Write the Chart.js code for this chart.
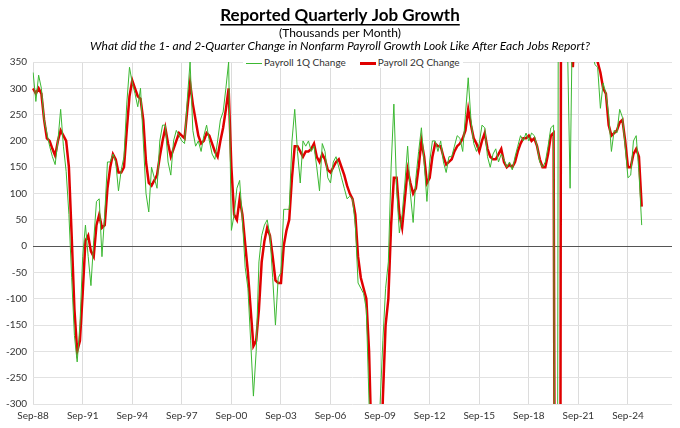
<!DOCTYPE html>
<html><head><meta charset="utf-8">
<script src="https://cdn.jsdelivr.net/npm/chart.js@4"></script>
<style>
body{margin:0;background:#fff;font-family:Lato,sans-serif}
#wrap{position:relative;width:680px;height:428px}
#legend{position:absolute;left:243px;top:56px;font-size:10px;color:#333;display:flex;gap:14px;background:#fff;padding:0 3px}
#legend span.l{display:inline-block;width:16px;vertical-align:middle;margin-right:2px}
</style></head>
<body><div id="wrap"><canvas id="c" width="680" height="428"></canvas>
<div id="legend"><div><span class="l" style="border-top:1px solid #3cb832"></span>Payroll 1Q Change</div><div><span class="l" style="border-top:3px solid #e00000"></span>Payroll 2Q Change</div></div></div>
<script>
// bimonthly readings, Sep-88 onward; axis runs on past the last report
const months = ['Jan','Feb','Mar','Apr','May','Jun','Jul','Aug','Sep','Oct','Nov','Dec'];
const labels = [];
for (let i = 0; i < 233; i++) {
  const m = 8 + 2 * i;
  const yr = (88 + Math.floor(m / 12)) % 100;
  labels.push(months[m % 12] + '-' + String(yr).padStart(2, '0'));
}
const yTicks = [-300,-250,-200,-150,-100,-50,0,50,100,150,200,250,300,350];

const payroll1Q = [
  330,275,325,300,240,215, 190,170,155,200,260,190, 142,60,-60,-170,-220,-150,
  -20,40,-20,-75,10,85, 90,-20,60,160,160,175, 160,105,145,170,270,340,
  310,290,265,300,200,100, 65,150,130,110,200,230, 230,160,135,200,220,210,
  200,195,280,350,220,190, 200,180,210,230,200,175, 165,200,240,255,300,350,
  30,60,110,125,50,-40, -80,-180,-285,-200,-30,20, 40,50,20,-60,-150,-60,
  -50,70,70,70,200,260, 180,120,200,190,200,180, 190,150,105,195,180,130,
  120,160,170,150,130,110, 90,95,90,40,-70,-80, -90,-120,-300,-600,-700,-500,
  -300,-180,-80,-30,150,270, 110,25,60,120,190,100, 45,130,180,225,160,85,
  160,200,200,180,200,160, 140,170,170,190,210,205, 180,250,320,240,195,180,
  195,230,225,170,150,175, 185,160,175,165,150,160, 145,170,190,210,200,215,
  200,215,210,190,160,150, 160,190,225,230,-2000,1500, 1200,800,400,110,500,600,
  550,500,450,420,400,380, 345,340,262,310,290,250, 180,220,215,260,245,190,
  130,135,200,210,140,40
];
const payroll2Q = [
  300,290,300,290,240,205, 200,185,172,200,220,210, 200,150,20,-120,-200,-180,
  -90,10,20,-10,-20,40, 60,35,40,110,150,175, 165,140,140,150,220,285,
  315,300,285,280,240,160, 120,115,125,135,170,200, 225,195,170,185,200,215,
  210,205,260,310,270,240, 210,195,200,215,210,195, 180,170,200,225,260,300,
  150,60,50,90,60,5, -50,-120,-190,-180,-120,-30, 10,35,20,-20,-65,-70,
  -70,0,30,50,130,190, 190,180,170,180,180,185, 195,170,160,175,165,145,
  140,150,160,165,150,135, 115,100,90,60,-20,-60, -80,-100,-200,-400,-600,-650,
  -450,-290,-150,-100,40,130, 130,60,35,90,145,120, 100,110,150,200,170,120,
  130,170,195,190,190,170, 155,160,165,180,190,195, 205,220,260,230,205,195,
  180,200,215,185,170,165, 165,175,185,160,150,155, 150,160,180,195,205,205,
  210,200,205,190,165,150, 150,175,210,215,-1500,-2500, 1800,1200,700,400,340,450,
  560,520,480,440,410,390, 360,350,330,300,290,230, 210,215,220,235,240,200,
  150,150,175,185,170,75
];

const textPlugin = {
  id: 'titles',
  afterDraw(chart) {
    const ctx = chart.ctx;
    ctx.save();
    ctx.textAlign = 'center';
    ctx.fillStyle = '#000';
    ctx.font = 'bold 17px Lato';
    const t = 'Reported Quarterly Job Growth';
    ctx.fillText(t, 340, 21);
    const w = ctx.measureText(t).width;
    ctx.fillRect(340 - w / 2, 24, w, 1.5);
    ctx.font = '12px Lato';
    ctx.fillText('(Thousands per Month)', 340, 37);
    ctx.font = 'italic 12px Lato';
    ctx.fillText('What did the 1- and 2-Quarter Change in Nonfarm Payroll Growth Look Like After Each Jobs Report?', 340, 50);
    ctx.restore();
  }
};

new Chart(document.getElementById('c'), {
  type: 'line',
  data: {
    labels: labels,
    datasets: [
      { label: 'Payroll 1Q Change', data: payroll1Q, borderColor: '#3cb832', borderWidth: 1, pointRadius: 0, tension: 0 },
      { label: 'Payroll 2Q Change', data: payroll2Q, borderColor: '#e00000', borderWidth: 2.5, pointRadius: 0, tension: 0 }
    ]
  },
  options: {
    responsive: false,
    animation: false,
    layout: { padding: { top: 62, right: 8, left: 0, bottom: 0 } },
    plugins: { legend: { display: false }, tooltip: { enabled: false } },
    scales: {
      x: {
        offset: false,
        grid: { color: ctx => (ctx.index % 18 === 0 ? '#dcdcdc' : 'rgba(0,0,0,0)'), drawTicks: false },
        border: { display: false },
        ticks: {
          autoSkip: false, maxRotation: 0, padding: 6, color: '#333', font: { family: 'Lato', size: 10 },
          callback: (v, i) => (i % 18 === 0 ? labels[i] : '')
        }
      },
      y: {
        min: -300, max: 350,
        afterBuildTicks: axis => { axis.ticks = yTicks.map(v => ({ value: v })); },
        grid: { color: ctx => (ctx.tick && ctx.tick.value === 0 ? '#555' : '#e2e2e2'), drawTicks: false },
        border: { display: false },
        ticks: { padding: 6, color: '#333', font: { family: 'Lato', size: 10 } }
      }
    }
  },
  plugins: [textPlugin]
});
</script></body></html>
